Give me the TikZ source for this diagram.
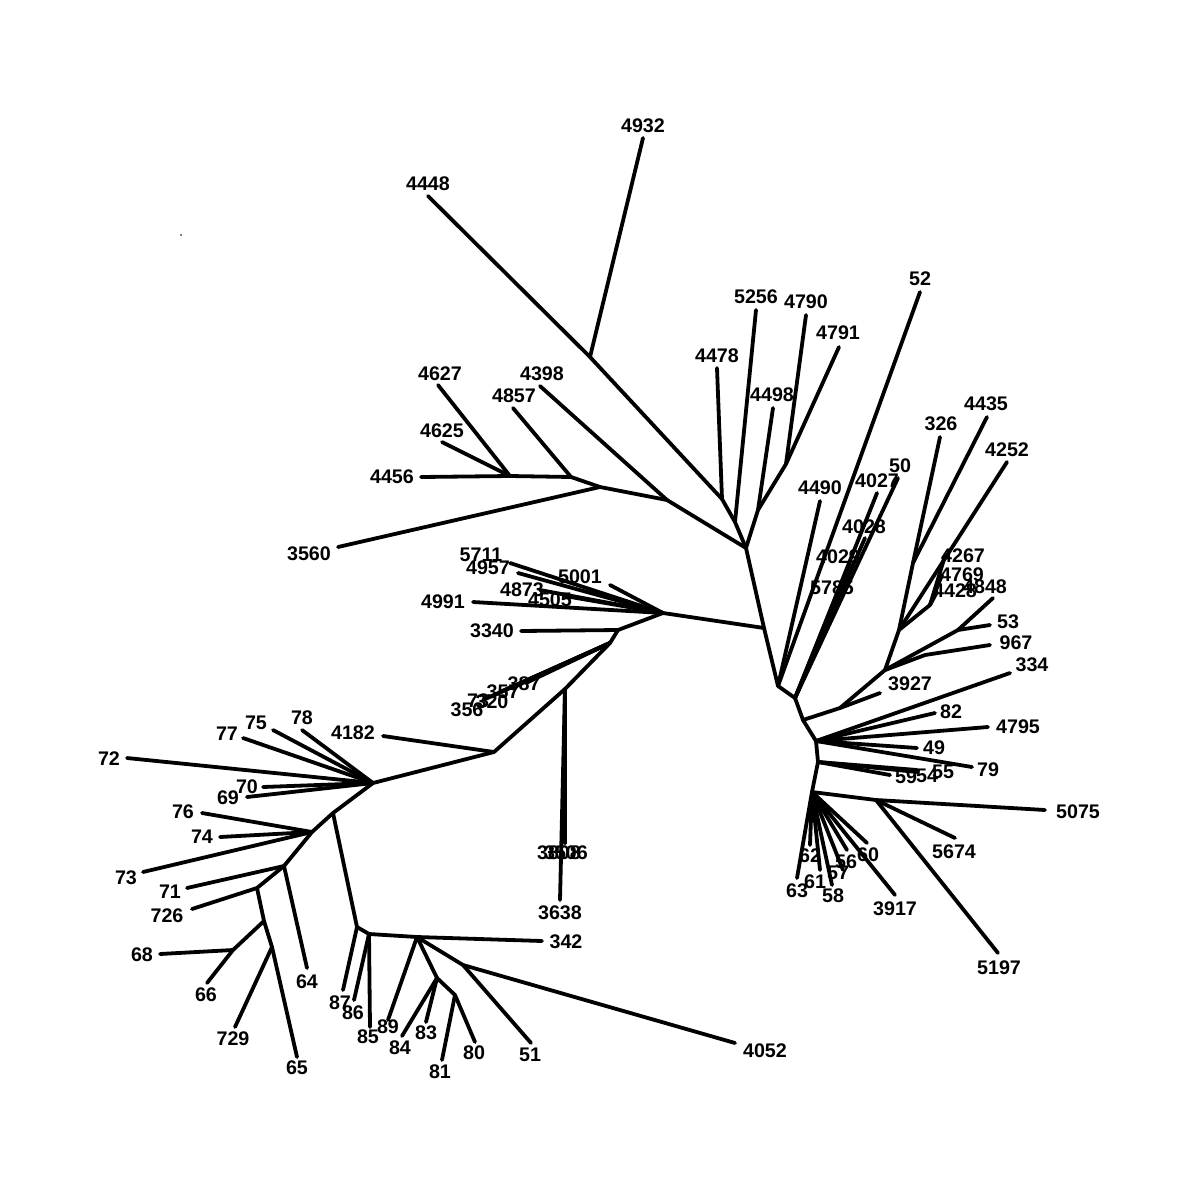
\documentclass[tikz,border=0pt]{standalone}
\usepackage{fontspec}
\setmainfont{Liberation Sans}
\begin{document}
\begin{tikzpicture}[x=0.25mm, y=-0.25mm]
  \tikzstyle{br}=[draw, line width=0.95mm, line cap=round, line join=round]
  \tikzstyle{lab}=[font=\fontsize{14}{14}\selectfont\bfseries, inner sep=0pt]
  \useasboundingbox (0,0) rectangle (1200,1200);

  % inner forks of the tree
  \foreach \n/\x/\y in {A/764/628, T1/746/548, N2/722/499, N3/735/522, N4/786/464,
      N5/758/510, G1/590/357, L1/667/500, L2/600/487, L3/571/477, L4/510/476,
      C1/663/613, C2/618/630, C3/610/643, C4/565/689, C5/494/752, C6/373/783,
      C7/333/813, C8/312/832, C9/284/866, C10/257/888, C11/264/921, C12/233/950,
      C13/272/947, D1/357/927, D2/369/934, D3/417/937, D4/437/978, D5/463/965,
      D6/455/995, R1/778/686, R2/795/698, R3/803/720, R4/816/741, R4b/818/762,
      R5/812/792, F1/876/800, Q1/840/708, Q2/885/670, Q3/899/630, Q4/913/563,
      Q6/925/655, Q7/958/630, Q8/930/605}
    \coordinate (\n) at (\x,\y);

  % leaves: name / tip / label
  \foreach \n/\tx/\ty/\lx/\ly in {4932/643/138/643/126, 4448/428/196/428/184,
      5256/756/310/756/297, 4790/806/315/806/302, 4791/839/347/838/333,
      4478/717/368/717/356, 4498/773/408/772/395, 4627/438/385/440/374,
      4398/540/386/542/374, 4857/513/408/514/396, 4625/442/442/442/431,
      4456/421/477/392/477, 3560/338/547/309/554, 5711/510/563/481/555,
      4957/518/573/488/568, 5001/610/585/580/577, 4991/473/602/443/602,
      4873/540/590/522/590, 4505/565/596/550/600, 3340/521/631/492/631,
      356/483/700/467/710, 320/500/692/492/702,
      357/512/688/503/692, 387/526/683/524/684, 3808/565/843/559/853,
      3506/563/842/566/853, 3638/560/900/560/913, 4182/383/736/353/733,
      72/127/758/109/759, 77/243/738/227/734, 75/273/730/256/723,
      78/302/730/302/718, 70/263/787/247/787, 69/247/797/228/798,
      76/202/813/183/812, 74/220/837/202/837, 73/143/872/126/878,
      71/187/888/170/892, 726/192/909/167/916, 68/160/954/142/955,
      66/207/983/206/995, 729/235/1027/233/1039, 65/297/1057/297/1068,
      64/307/968/307/982, 87/343/990/340/1003, 86/354/1000/353/1013,
      85/370/1027/368/1037, 89/388/1020/388/1027, 84/402/1036/400/1048,
      83/426/1022/426/1033, 81/442/1060/440/1072, 80/475/1042/474/1053,
      51/531/1043/530/1055, 342/542/941/566/942, 4052/735/1043/765/1051,
      52/920/292/920/279, 4490/820/501/820/488, 50/898/478/900/466,
      4027/877/493/877/481, 4028/865/538/864/527, 4029/850/563/838/557,
      5785/842/590/832/588, 3927/880/693/910/684, 326/940/437/941/424,
      4435/987/417/986/404, 4252/1007/462/1007/450, 4267/945/556/963/556,
      4769/942/575/962/575, 4428/937/592/955/591, 4848/993/598/985/587,
      53/990/625/1008/622, 967/990/645/1016/643, 334/1010/673/1032/665,
      82/935/713/951/712, 4795/988/727/1018/727, 49/917/748/934/748,
      79/972/767/988/770, 55/917/770/943/772, 54/917/772/927/776,
      59/890/775/906/777, 5075/1045/810/1078/812, 5674/955/838/954/852,
      5197/998/953/999/968, 3917/895/895/895/909, 60/867/843/868/855,
      56/847/850/846/862, 57/843/870/838/873, 58/832/885/833/896,
      61/820/870/815/882, 62/810/845/810/856, 63/797/878/797/891}
    {
    \coordinate (t\n) at (\tx,\ty);
    \node[lab] (l\n) at (\lx,\ly) {\n};
    }
  % second leaf labelled 73, in the small fan
  \coordinate (t73b) at (492,696);
  \node[lab] (l73b) at (478,701) {73};

  % branches
  \foreach \a/\b in {A/T1, T1/N3, N3/N2, N2/t4478, N2/G1, G1/t4448, G1/t4932,
      N3/t5256, T1/N5, N5/t4498, N5/N4, N4/t4790, N4/t4791, T1/L1, L1/t4398,
      L1/L2, L2/t3560, L2/L3, L3/t4857, L3/L4, L4/t4456, L4/t4627, L4/t4625,
      A/C1, C1/t5711, C1/t4957, C1/t5001, C1/t4991, C1/t4873, C1/t4505, C1/C2,
      C2/t3340, C2/C3, C3/t356, C3/t73b, C3/t320, C3/t357, C3/t387, C3/C4,
      C4/t3808, C4/t3506, C4/t3638, C4/C5, C5/t4182, C5/C6, C6/t72, C6/t77,
      C6/t75, C6/t78, C6/t70, C6/t69, C6/C7, C7/C8, C8/t76, C8/t74, C8/t73,
      C8/C9, C9/t71, C9/t64, C9/C10, C10/t726, C10/C11, C11/C12, C12/t68,
      C12/t66, C11/C13, C13/t729, C13/t65, C7/D1, D1/t87, D1/D2, D2/t86,
      D2/t85, D2/D3, D3/t342, D3/t89, D3/D4, D4/t84, D4/t83, D4/D6, D6/t81,
      D6/t80, D3/D5, D5/t51, D5/t4052,
      A/R1, R1/t52, R1/t4490, R1/R2, R2/t50, R2/t4027, R2/t4028, R2/t4029,
      R2/t5785, R2/R3, R3/Q1, Q1/t3927, Q1/Q2, Q2/Q3, Q3/Q4, Q4/t326,
      Q4/t4435, Q3/t4252, Q3/Q8, Q8/t4267, Q8/t4769, Q8/t4428, Q2/Q7,
      Q7/t4848, Q7/t53, Q2/Q6, Q6/t967, R3/R4, R4/t334, R4/t82, R4/t4795,
      R4/t49, R4/t79, R4/R4b, R4b/t55, R4b/t54, R4b/t59, R4b/R5, R5/F1,
      F1/t5075, F1/t5674, F1/t5197, R5/t3917, R5/t60, R5/t56, R5/t57,
      R5/t58, R5/t61, R5/t62, R5/t63}
    \draw[br] (\a) -- (\b);

  % stray dot
  \fill (181,235) circle (0.8);
\end{tikzpicture}
\end{document}
